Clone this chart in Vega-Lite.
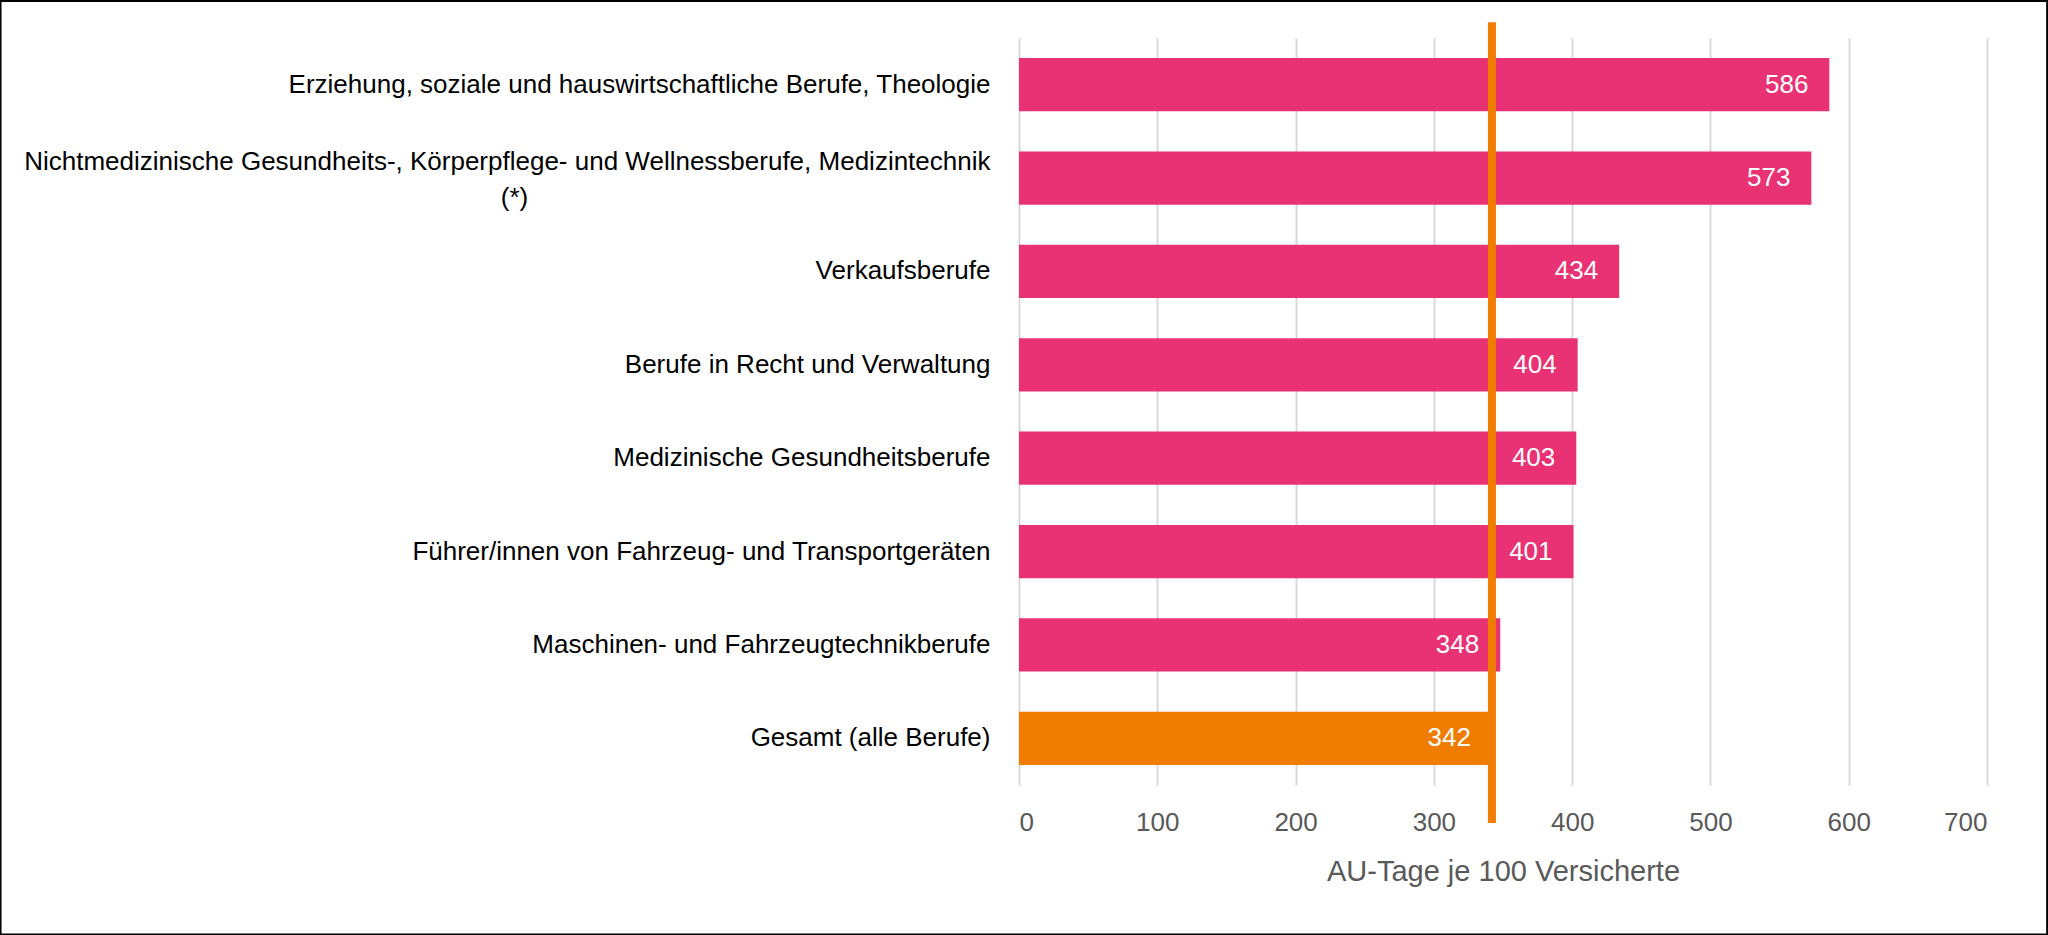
{
  "$schema": "https://vega.github.io/schema/vega-lite/v6.json",
  "width": 968,
  "height": 747,
  "autosize": {"type": "none"},
  "padding": {"left": 1019, "top": 38, "right": 61, "bottom": 150},
  "background": "white",
  "config": {
    "view": {"stroke": null},
    "font": "Liberation Sans, Arial, sans-serif"
  },
  "data": {
    "values": [
      {"beruf": "Erziehung, soziale und hauswirtschaftliche Berufe, Theologie", "wert": 586, "typ": "Beruf"},
      {"beruf": "Nichtmedizinische Gesundheits-, Körperpflege- und Wellnessberufe, Medizintechnik (*)", "wert": 573, "typ": "Beruf"},
      {"beruf": "Verkaufsberufe", "wert": 434, "typ": "Beruf"},
      {"beruf": "Berufe in Recht und Verwaltung", "wert": 404, "typ": "Beruf"},
      {"beruf": "Medizinische Gesundheitsberufe", "wert": 403, "typ": "Beruf"},
      {"beruf": "Führer/innen von Fahrzeug- und Transportgeräten", "wert": 401, "typ": "Beruf"},
      {"beruf": "Maschinen- und Fahrzeugtechnikberufe", "wert": 348, "typ": "Beruf"},
      {"beruf": "Gesamt (alle Berufe)", "wert": 342, "typ": "Gesamt"}
    ]
  },
  "resolve": {"scale": {"y": "independent"}},
  "layer": [
    {
      "mark": {"type": "bar"},
      "encoding": {
        "y": {
          "field": "beruf",
          "type": "nominal",
          "sort": null,
          "scale": {"paddingInner": 0.43, "paddingOuter": 0.215},
          "axis": {
            "title": null,
            "domain": false,
            "ticks": false,
            "labelFontSize": 26,
            "labelColor": "#000000",
            "labelPadding": 29,
            "labelLimit": 1100,
            "labelLineHeight": 36,
            "labelOffset": {"condition": {"test": "indexof(datum.value, ' (*)') > 0", "value": -16}, "value": 0},
            "labelExpr": "indexof(datum.value, ' (*)') > 0 ? [replace(datum.value, ' (*)', ''), pad('(*)', 67, '\u00a0') + '\u200b'] : datum.value"
          }
        },
        "x": {
          "field": "wert",
          "type": "quantitative",
          "scale": {"domain": [0, 700], "nice": false},
          "axis": {
            "title": "AU-Tage je 100 Versicherte",
            "values": [0, 100, 200, 300, 400, 500, 600, 700],
            "domain": false,
            "ticks": false,
            "grid": true,
            "gridColor": "#D9D9D9",
            "gridWidth": 2,
            "labelFontSize": 26,
            "labelColor": "#595959",
            "labelPadding": 24,
            "titleFontSize": 29,
            "titleFontWeight": "normal",
            "titleColor": "#595959",
            "titlePadding": 22
          }
        },
        "color": {
          "field": "typ",
          "type": "nominal",
          "scale": {"domain": ["Beruf", "Gesamt"], "range": ["#E83273", "#F07D00"]},
          "legend": null
        }
      }
    },
    {
      "mark": {"type": "text", "align": "right", "baseline": "middle", "dx": -21, "fontSize": 26, "color": "#FFFFFF"},
      "encoding": {
        "y": {"field": "beruf", "type": "nominal", "sort": null, "scale": {"paddingInner": 0.43, "paddingOuter": 0.215}, "axis": null},
        "x": {"field": "wert", "type": "quantitative"},
        "text": {"field": "wert", "type": "quantitative"}
      }
    },
    {
      "transform": [{"filter": "datum.typ == 'Gesamt'"}],
      "mark": {"type": "rule", "color": "#F07D00", "strokeWidth": 8},
      "encoding": {
        "x": {"field": "wert", "type": "quantitative"},
        "y": {"datum": 1.021, "type": "quantitative", "scale": {"domain": [0, 1]}, "axis": null},
        "y2": {"datum": -0.051}
      }
    },
    {
      "transform": [{"filter": "datum.typ == 'Gesamt'"}],
      "mark": {"type": "rect", "fill": null, "stroke": "#000000", "strokeWidth": 2},
      "encoding": {
        "x": {"datum": -736.5, "type": "quantitative"},
        "x2": {"datum": 743.5},
        "y": {"datum": 1.0495, "type": "quantitative", "scale": {"domain": [0, 1]}, "axis": null},
        "y2": {"datum": -0.2},
        "color": {"value": null}
      }
    }
  ]
}
